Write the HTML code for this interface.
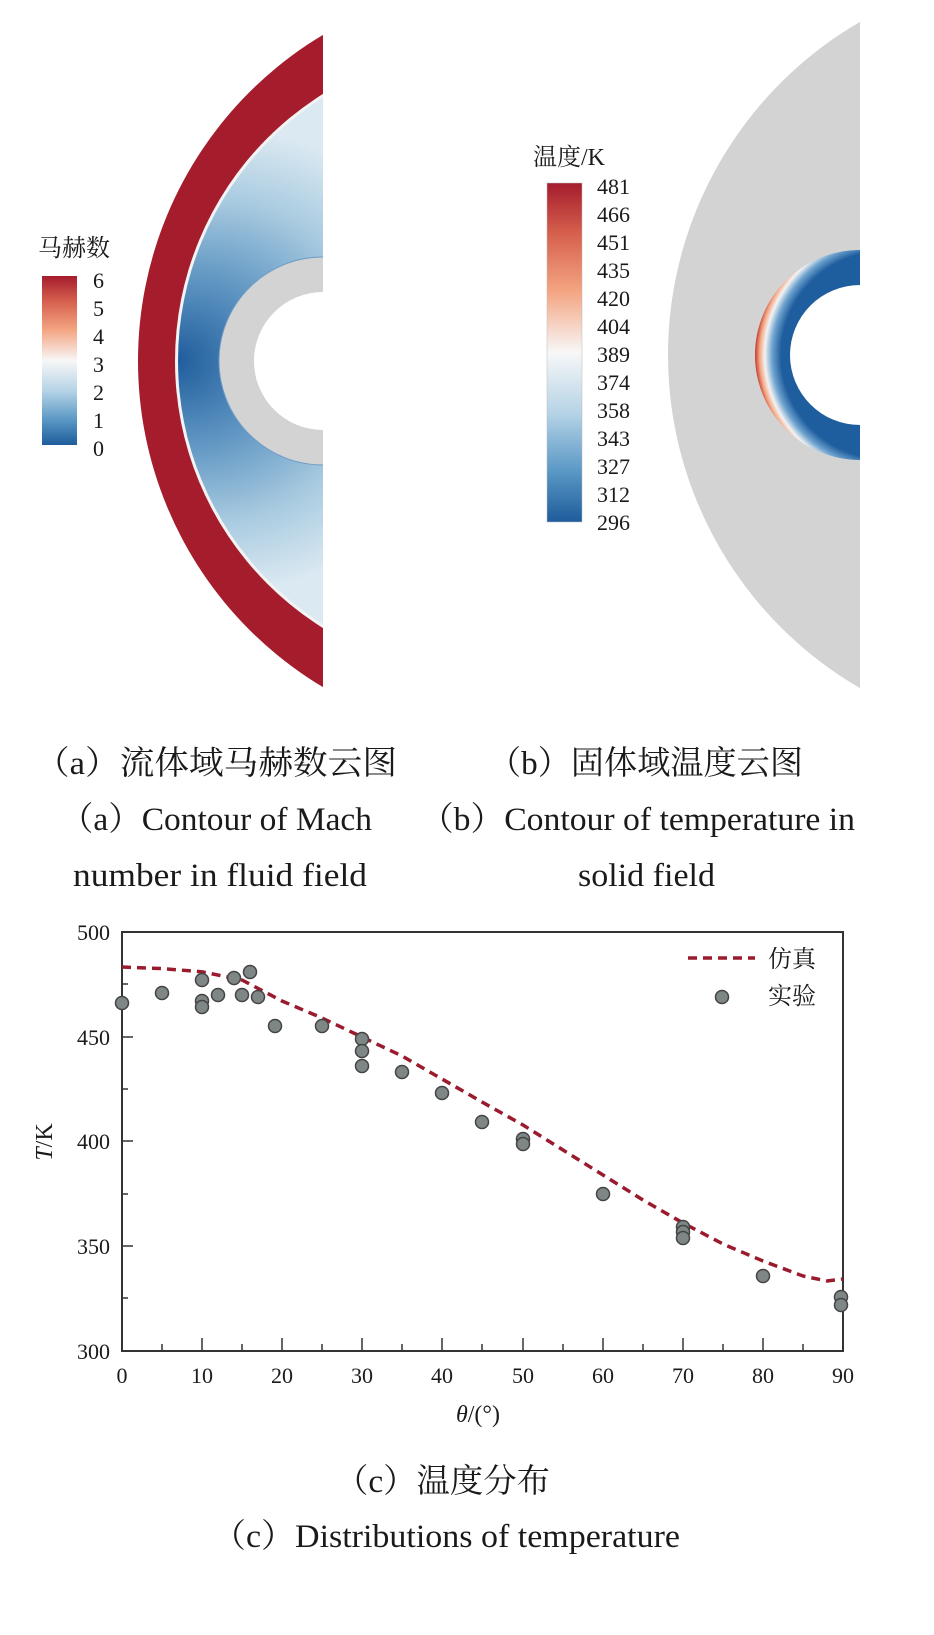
<!DOCTYPE html>
<html><head><meta charset="utf-8"><style>
body{margin:0;background:#fff;}
svg{display:block;}
text{font-family:"Liberation Serif","Noto Serif CJK SC",serif;fill:#1a1a1a;}
</style></head><body>
<svg width="934" height="1635" viewBox="0 0 934 1635" xmlns="http://www.w3.org/2000/svg">
<defs>
<clipPath id="ca"><rect x="0" y="0" width="323" height="720"/></clipPath>
<clipPath id="cb"><rect x="0" y="0" width="860" height="720"/></clipPath>
<radialGradient id="flow" cx="230" cy="361" r="230" gradientUnits="userSpaceOnUse" fx="175" fy="361">
<stop offset="0" stop-color="#1f5c9c"/><stop offset="0.35" stop-color="#5e95c2"/><stop offset="0.7" stop-color="#a9cbe0"/><stop offset="1" stop-color="#dbe9f2"/>
</radialGradient>
<linearGradient id="cbA" x1="0" y1="0" x2="0" y2="1">
<stop offset="0" stop-color="#a51c2d"/><stop offset="0.15" stop-color="#d6604d"/><stop offset="0.32" stop-color="#f4a582"/><stop offset="0.5" stop-color="#f7f7f7"/><stop offset="0.68" stop-color="#b5d3e6"/><stop offset="0.85" stop-color="#5a98c5"/><stop offset="1" stop-color="#1e5c9c"/>
</linearGradient>
<radialGradient id="ringB" cx="885" cy="355" r="130" gradientUnits="userSpaceOnUse">
<stop offset="0" stop-color="#1e5c9c"/><stop offset="0.8" stop-color="#1f5e9e"/><stop offset="0.87" stop-color="#6fa3cf"/><stop offset="0.925" stop-color="#f3f3f3"/><stop offset="0.965" stop-color="#f4a582"/><stop offset="1" stop-color="#c0382d"/>
</radialGradient>
</defs>

<!-- Panel a -->
<g clip-path="url(#ca)">
<circle cx="518" cy="361" r="380" fill="#a51c2d"/>
<circle cx="490" cy="361" r="315" fill="#f3f3f3"/>
<circle cx="490" cy="361" r="312" fill="url(#flow)"/>
<circle cx="323" cy="361" r="104" fill="#d3d3d3" stroke="#6e9cc8" stroke-width="1"/>
<circle cx="323" cy="361" r="69" fill="#fff"/>
</g>
<rect x="42" y="276" width="35" height="169" fill="url(#cbA)"/>
<text x="38" y="256" font-size="24">马赫数</text>
<g font-size="22">
<text x="93" y="288">6</text><text x="93" y="316">5</text><text x="93" y="344">4</text><text x="93" y="372">3</text><text x="93" y="400">2</text><text x="93" y="428">1</text><text x="93" y="456">0</text>
</g>

<!-- Panel b -->
<g clip-path="url(#cb)">
<circle cx="1053" cy="355" r="385" fill="#d3d3d3"/>
<circle cx="860" cy="355" r="105" fill="url(#ringB)"/>
<circle cx="860" cy="355" r="70" fill="#fff"/>
</g>
<rect x="547" y="183" width="35" height="339" fill="url(#cbA)" stroke="#bbb" stroke-width="0.5"/>
<text x="533" y="165" font-size="24">温度/K</text>
<g font-size="22">
<text x="597" y="194">481</text><text x="597" y="222">466</text><text x="597" y="250">451</text><text x="597" y="278">435</text><text x="597" y="306">420</text><text x="597" y="334">404</text><text x="597" y="362">389</text><text x="597" y="390">374</text><text x="597" y="418">358</text><text x="597" y="446">343</text><text x="597" y="474">327</text><text x="597" y="502">312</text><text x="597" y="530">296</text>
</g>

<!-- Captions -->
<text x="35" y="774" font-size="33" textLength="362" lengthAdjust="spacingAndGlyphs">（a）流体域马赫数云图</text>
<text x="488" y="774" font-size="33" textLength="315" lengthAdjust="spacingAndGlyphs">（b）固体域温度云图</text>
<text x="60" y="830" font-size="33" textLength="312" lengthAdjust="spacingAndGlyphs">（a）Contour of Mach</text>
<text x="420" y="830" font-size="33" textLength="435" lengthAdjust="spacingAndGlyphs">（b）Contour of temperature in</text>
<text x="73" y="886" font-size="33" textLength="294" lengthAdjust="spacingAndGlyphs">number in fluid field</text>
<text x="578" y="886" font-size="33" textLength="137" lengthAdjust="spacingAndGlyphs">solid field</text>

<!-- Chart c -->
<rect x="122" y="932" width="721" height="419" fill="none" stroke="#333" stroke-width="2"/>
<g stroke="#333" stroke-width="1.5">
<line x1="162" y1="1351" x2="162" y2="1344"/><line x1="202" y1="1351" x2="202" y2="1338"/><line x1="242" y1="1351" x2="242" y2="1344"/><line x1="282" y1="1351" x2="282" y2="1338"/><line x1="322" y1="1351" x2="322" y2="1344"/><line x1="362" y1="1351" x2="362" y2="1338"/><line x1="402" y1="1351" x2="402" y2="1344"/><line x1="442" y1="1351" x2="442" y2="1338"/><line x1="482" y1="1351" x2="482" y2="1344"/><line x1="523" y1="1351" x2="523" y2="1338"/><line x1="563" y1="1351" x2="563" y2="1344"/><line x1="603" y1="1351" x2="603" y2="1338"/><line x1="643" y1="1351" x2="643" y2="1344"/><line x1="683" y1="1351" x2="683" y2="1338"/><line x1="723" y1="1351" x2="723" y2="1344"/><line x1="763" y1="1351" x2="763" y2="1338"/><line x1="803" y1="1351" x2="803" y2="1344"/>
<line x1="122" y1="984" x2="128" y2="984"/><line x1="122" y1="1037" x2="133" y2="1037"/><line x1="122" y1="1089" x2="128" y2="1089"/><line x1="122" y1="1141" x2="133" y2="1141"/><line x1="122" y1="1194" x2="128" y2="1194"/><line x1="122" y1="1246" x2="133" y2="1246"/><line x1="122" y1="1298" x2="128" y2="1298"/>
</g>
<g font-size="22" text-anchor="end">
<text x="110" y="940">500</text><text x="110" y="1045">450</text><text x="110" y="1149">400</text><text x="110" y="1254">350</text><text x="110" y="1359">300</text>
</g>
<g font-size="22" text-anchor="middle">
<text x="122" y="1383">0</text><text x="202" y="1383">10</text><text x="282" y="1383">20</text><text x="362" y="1383">30</text><text x="442" y="1383">40</text><text x="523" y="1383">50</text><text x="603" y="1383">60</text><text x="683" y="1383">70</text><text x="763" y="1383">80</text><text x="843" y="1383">90</text>
</g>
<text x="478" y="1422" font-size="24" text-anchor="middle"><tspan font-style="italic">θ</tspan>/(°)</text>
<text transform="translate(52,1142) rotate(-90)" font-size="24" text-anchor="middle"><tspan font-style="italic">T</tspan>/K</text>

<polyline fill="none" stroke="#9b1b2e" stroke-width="3.5" stroke-dasharray="9,6" points="122,967 162,968.6 202,971.8 242,980 282,1001 322,1018 362,1037 402,1056 442,1079 482,1102 523,1125 563,1150 603,1175 643,1200 683,1223 723,1244 763,1261 803,1276 827,1281 843,1279"/>
<g fill="#7f8686" stroke="#444" stroke-width="1.5">
<circle cx="122" cy="1003" r="6.5"/><circle cx="162" cy="993" r="6.5"/><circle cx="202" cy="980" r="6.5"/><circle cx="202" cy="1001" r="6.5"/><circle cx="202" cy="1007" r="6.5"/><circle cx="218" cy="995" r="6.5"/><circle cx="234" cy="978" r="6.5"/><circle cx="242" cy="995" r="6.5"/><circle cx="250" cy="972" r="6.5"/><circle cx="258" cy="997" r="6.5"/><circle cx="275" cy="1026" r="6.5"/><circle cx="322" cy="1026" r="6.5"/><circle cx="362" cy="1039" r="6.5"/><circle cx="362" cy="1051" r="6.5"/><circle cx="362" cy="1066" r="6.5"/><circle cx="402" cy="1072" r="6.5"/><circle cx="442" cy="1093" r="6.5"/><circle cx="482" cy="1122" r="6.5"/><circle cx="523" cy="1139" r="6.5"/><circle cx="523" cy="1144" r="6.5"/><circle cx="603" cy="1194" r="6.5"/><circle cx="683" cy="1227" r="6.5"/><circle cx="683" cy="1232" r="6.5"/><circle cx="683" cy="1238" r="6.5"/><circle cx="763" cy="1276" r="6.5"/><circle cx="841" cy="1297" r="6.5"/><circle cx="841" cy="1305" r="6.5"/>
<circle cx="722" cy="997" r="6.5"/>
</g>
<line x1="688" y1="958" x2="755" y2="958" stroke="#9b1b2e" stroke-width="3.5" stroke-dasharray="9,6"/>
<text x="768" y="967" font-size="24">仿真</text>
<text x="768" y="1004" font-size="24">实验</text>

<text x="335" y="1492" font-size="33" textLength="215" lengthAdjust="spacingAndGlyphs">（c）温度分布</text>
<text x="212" y="1547" font-size="33" textLength="468" lengthAdjust="spacingAndGlyphs">（c）Distributions of temperature</text>
</svg>
</body></html>
